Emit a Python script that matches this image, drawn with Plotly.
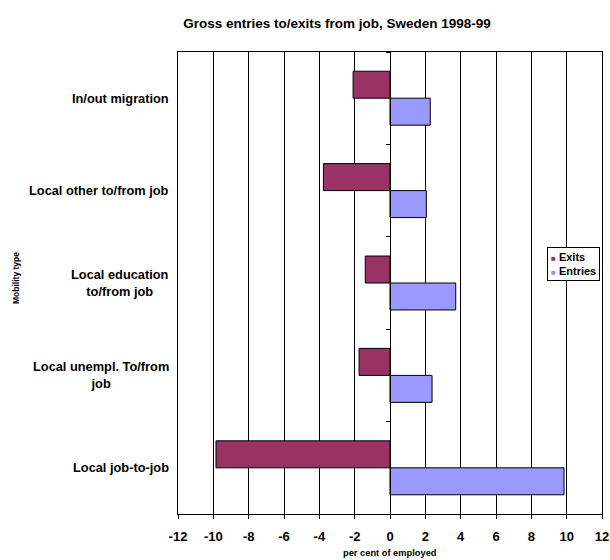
import plotly.graph_objects as go

categories = ["Local job-to-job", "Local unempl. To/from job", "Local education to/from job",
              "Local other to/from job", "In/out migration"]
category_labels = ["Local job-to-job", "Local unempl. To/from<br>job", "Local education<br>to/from job",
                   "Local other to/from job", "In/out migration"]
series_names = ["Exits", "Entries"]
series_colors = ["#993366", "#9999FF"]
exits = [-9.85, -1.75, -1.4, -3.77, -2.09]
entries = [9.85, 2.38, 3.72, 2.06, 2.28]
x_ticks = [-12, -10, -8, -6, -4, -2, 0, 2, 4, 6, 8, 10, 12]

FONT = "Liberation Sans, Arial, sans-serif"
W, H = 610, 560

fig = go.Figure()
# entries first so that exits sit above within each category
fig.add_trace(go.Bar(y=categories, x=entries, orientation="h", name=series_names[1],
                     marker=dict(color=series_colors[1], line=dict(color="#000000", width=1)),
                     showlegend=False))
fig.add_trace(go.Bar(y=categories, x=exits, orientation="h", name=series_names[0],
                     marker=dict(color=series_colors[0], line=dict(color="#000000", width=1)),
                     showlegend=False))
# helper trace for the category axis drawn at zero
fig.add_trace(go.Scatter(x=[None], y=[None], yaxis="y2", showlegend=False, hoverinfo="skip"))

for lab, cat in zip(category_labels, categories):
    fig.add_annotation(text="<b>" + lab + "</b>", xref="paper", x=0, xshift=-7, xanchor="right",
                       yref="y", y=cat, showarrow=False, align="center",
                       font=dict(family=FONT, size=12.8, color="#000"))

fig.add_annotation(text="<b>Mobility type</b>", textangle=-90, xref="paper", yref="paper",
                   x=0, xshift=-162, xanchor="center", y=0.5, yshift=5, yanchor="middle",
                   showarrow=False, font=dict(family=FONT, size=8.5, color="#000"))
fig.add_annotation(text="<b>per cent of employed</b>", xref="paper", yref="paper",
                   x=0.5, y=0, yshift=-39, xanchor="center", yanchor="middle", showarrow=False,
                   font=dict(family=FONT, size=9.3, color="#000"))

# legend box
legend_text = "<br>".join(
    f"<span style='color:{c};font-size:8px'>■</span> <b>{n}</b>"
    for n, c in zip(series_names, series_colors))
fig.add_annotation(text=legend_text, xref="paper", yref="paper",
                   x=(600 - 178) / 424, y=(514 - 247) / 462, xanchor="right", yanchor="top",
                   align="left", showarrow=False, bgcolor="white", bordercolor="#000",
                   borderwidth=1, borderpad=3, font=dict(family=FONT, size=11, color="#000"))

fig.update_layout(
    width=W, height=H,
    margin=dict(l=178, r=8, t=52, b=46, autoexpand=False),
    paper_bgcolor="white", plot_bgcolor="white",
    barmode="group", bargap=0.416, bargroupgap=0,
    title=dict(text="<b>Gross entries to/exits from job, Sweden 1998-99</b>",
               x=337/W, xanchor="center", xref="container", y=1 - 23/H, yanchor="middle",
               yref="container", font=dict(family=FONT, size=13.5, color="#000")),
    font=dict(family=FONT, color="#000"),
    showlegend=False,
    xaxis=dict(range=[-12, 12], tickvals=x_ticks, ticktext=[f"<b>{v}</b>" for v in x_ticks],
               tickfont=dict(family=FONT, size=13, color="#000"), automargin=False,
               ticklabeloverflow="allow", ticklabelstandoff=6,
               showgrid=True, gridcolor="#000", gridwidth=1, zeroline=False,
               showline=True, linecolor="#000", linewidth=1, mirror=True,
               ticks="outside", ticklen=4, tickcolor="#000"),
    yaxis=dict(type="category", categoryorder="array", categoryarray=categories,
               range=[-0.5, 4.5], showticklabels=False, ticks="", automargin=False,
               showgrid=False, showline=True, linecolor="#000", linewidth=1, mirror=True),
    yaxis2=dict(overlaying="y", anchor="free", position=0.5, side="left", automargin=False,
                range=[-0.5, 4.5], tickvals=[0.5, 1.5, 2.5, 3.5, 4.5], showticklabels=False,
                ticks="outside", ticklen=4, tickcolor="#000", showgrid=False, zeroline=False,
                showline=True, linecolor="#000", linewidth=1),
)

fig.write_html("out.html", config={"displayModeBar": False},
               post_script="document.body.style.margin='0';document.body.style.overflow='hidden';")
